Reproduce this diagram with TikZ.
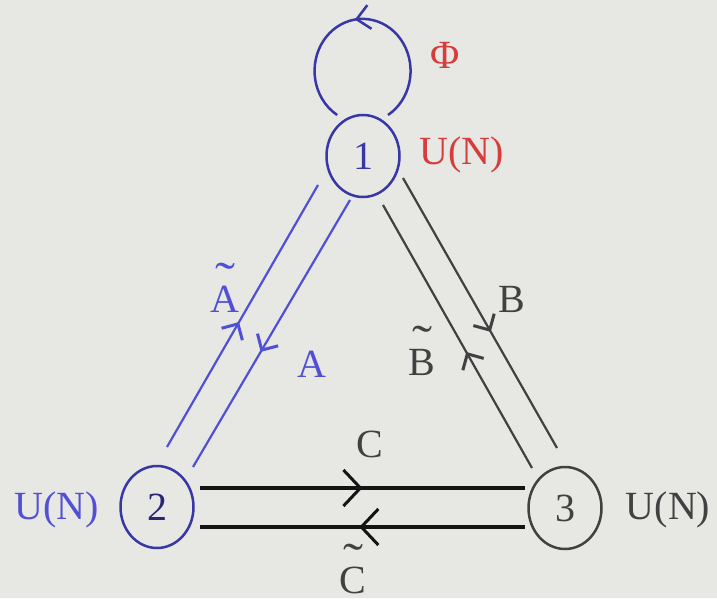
\documentclass[tikz,border=0pt]{standalone}
\usepackage{fontspec}
\setmainfont{Liberation Serif}
\usetikzlibrary{shapes.geometric,arrows.meta,decorations.markings}
\definecolor{bgc}{RGB}{231,231,227}
\definecolor{bluel}{RGB}{80,80,215}
\definecolor{blued}{RGB}{55,55,165}
\definecolor{redc}{RGB}{215,60,60}
\definecolor{grayc}{RGB}{65,65,65}
\definecolor{blackc}{RGB}{20,20,20}
\newcommand\tld[1]{\ooalign{#1\cr\hidewidth\raisebox{17pt}{\scalebox{1.5}[1.2]{\char"02DC}}\hidewidth\cr}}
\tikzset{
  x=1pt,y=1pt,
  every node/.style={font=\fontsize{40}{48}\selectfont, inner sep=0pt},
  vert/.style={ellipse, draw, line width=2.5pt, minimum width=73pt, minimum height=82pt},
  fwd/.style={postaction={decorate, decoration={markings,
     mark=at position #1 with {\arrow{Straight Barb[length=12pt,width=24pt,line width=3pt]}}}}},
  bwd/.style={postaction={decorate, decoration={markings,
     mark=at position #1 with {\arrowreversed{Straight Barb[length=12pt,width=24pt,line width=3pt]}}}}},
  cfwd/.style={postaction={decorate, decoration={markings,
     mark=at position #1 with {\arrow{Straight Barb[length=17pt,width=36pt,line width=3pt]}}}}},
  cbwd/.style={postaction={decorate, decoration={markings,
     mark=at position #1 with {\arrowreversed{Straight Barb[length=17pt,width=36pt,line width=3pt]}}}}},
  bline/.style={draw=bluel, line width=2.2pt},
  gline/.style={draw=grayc, line width=2.2pt},
  kline/.style={draw=blackc, line width=3.5pt},
}
\begin{document}
\begin{tikzpicture}
\fill[bgc] (0,0) rectangle (717,598);
\useasboundingbox (0,0) rectangle (717,598);

\node[vert, draw=blued, text=blued] (n1) at (363,442) {1};
\node[vert, draw=blued, text=blued!70!black] (n2) at (157,91) {2};
\node[vert, draw=grayc, text=grayc] (n3) at (565,90) {3};

% loop Phi
\draw[draw=blued, line width=2.5pt, postaction={decorate, decoration={markings,
   mark=at position 0.53 with {\arrow{Straight Barb[length=13pt,width=24pt,line width=2.5pt]}}}}]
  ([shift={(25,41)}]n1.center) arc[start angle=-58, end angle=238, x radius=48, y radius=52];

% 1-2
\draw[bline, bwd=0.523] ([shift={(-45,-29)}]n1.center) -- ([shift={(10,60)}]n2.center);
\draw[bline, fwd=0.569] ([shift={(-13,-44)}]n1.center) -- ([shift={(36,40)}]n2.center);
% 1-3
\draw[gline, bwd=0.559] ([shift={(20,-49)}]n1.center) -- ([shift={(-33,40)}]n3.center);
\draw[gline, fwd=0.57] ([shift={(40,-22)}]n1.center) -- ([shift={(-8,60)}]n3.center);
% 2-3
\draw[kline, cfwd=0.5] ([shift={(43,19)}]n2.center) -- ([shift={(-40,20)}]n3.center);
\draw[kline, cbwd=0.49] ([shift={(43,-20)}]n2.center) -- ([shift={(-40,-19)}]n3.center);

% labels
\node[text=redc] (phi) at (445,543) {\char"03A6};
\node[text=redc] (u1) at (462,443) {U(N)};
\node[text=bluel] (u2) at (57,88) {U(N)};
\node[text=grayc] (u3) at (668,88) {U(N)};
\node[text=bluel, anchor=base] (at) at (225,286) {\tld{A}};
\node[text=bluel, anchor=base] (a) at (312,221) {A};
\node[text=grayc, anchor=base] (b) at (512,286) {B};
\node[text=grayc, anchor=base] (bt) at (422,223) {\tld{B}};
\node[text=grayc, anchor=base] (c) at (370,141) {C};
\node[text=grayc, anchor=base] (ct) at (353,5) {\tld{C}};
\end{tikzpicture}
\end{document}
